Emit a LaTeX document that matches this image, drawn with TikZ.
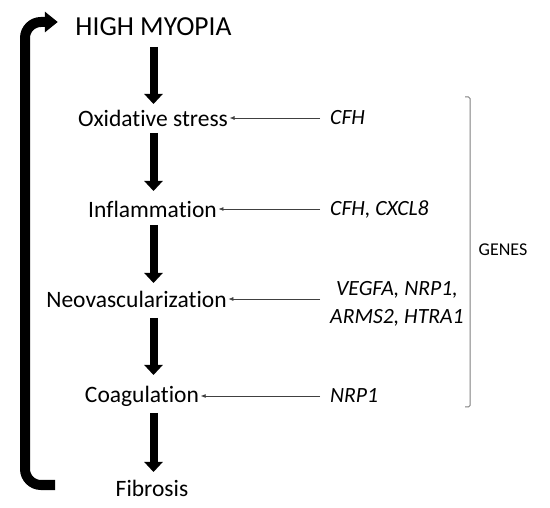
\documentclass[tikz,border=0pt]{standalone}
\usepackage{fontspec}
\setmainfont{Carlito}[Ligatures={NoCommon}]
\usetikzlibrary{arrows.meta,calc}
\begin{document}
\begin{tikzpicture}[x=1pt,y=-1pt,
  proc/.style={inner sep=1.5pt,font=\fontsize{23.5}{26}\selectfont},
  gene/.style={inner sep=0pt,anchor=west,align=center,font=\fontsize{21.7}{28}\selectfont\itshape},
  bigarrow/.style={line width=8pt,-{Triangle[width=18pt,length=10pt]}},
  genearrow/.style={draw=black!75,line width=0.7pt,-{Latex[length=5pt,width=4pt]}},
  bracketline/.style={draw=black!50,line width=1pt}]
\useasboundingbox (0,0) rectangle (550,508);
\node[proc,font=\fontsize{27.5}{30}\selectfont] (hm) at (153.5,27) {HIGH MYOPIA};
\node[proc] (ox) at (153,118) {Oxidative stress};
\node[proc] (infl) at (152.5,209) {Inflammation};
\node[proc] (neo) at (136.5,299) {Neovascularization};
\node[proc] (coag) at (142,396) {Coagulation};
\node[proc] (fib) at (152,488) {Fibrosis};
\node[gene] (g1) at (330,118) {CFH};
\node[gene] (g2) at (330,209) {CFH, CXCL8};
\node[gene] (g3) at (330,304) {VEGFA, NRP1,\\ARMS2, HTRA1};
\node[gene] (g4) at (330,396) {NRP1};
\node[font=\fontsize{18}{20}\selectfont,inner sep=0pt] (genes) at (503,250) {GENES};
% main chain
\draw[bigarrow] ($(hm.center)+(0,20)$) -- ($(hm.center |- ox.center)+(0,-14)$);
\draw[bigarrow] ($(hm.center |- ox.center)+(0,15)$) -- ($(hm.center |- infl.center)+(0,-18)$);
\draw[bigarrow] ($(hm.center |- infl.center)+(0,16)$) -- ($(hm.center |- neo.center)+(0,-16)$);
\draw[bigarrow] ($(hm.center |- neo.center)+(0,19)$) -- ($(hm.center |- coag.center)+(0,-21)$);
\draw[bigarrow] ($(hm.center |- coag.center)+(0,17)$) -- ($(hm.center |- fib.center)+(0,-16)$);
% gene arrows
\draw[genearrow] ($(g1.west)+(-10,0)$) -- (ox.east);
\draw[genearrow] ($(g2.west)+(-10,0)$) -- (infl.east);
\draw[genearrow] ($(g3.west |- neo.center)+(-10,0)$) -- (neo.east);
\draw[genearrow] ($(g4.west)+(-10,0)$) -- (coag.east);
% bracket
\coordinate (bt) at (470,97);
\coordinate (bb) at (470,407);
\draw[bracketline,rounded corners=1.5pt] ($(bt)+(-5,0)$) -- (bt) -- (bb) -- ($(bb)+(-5,0)$);
% feedback arrow
\coordinate (fbstart) at (55,485);
\coordinate (fbend) at ($(hm.west)+(-16,-5)$);
\draw[line width=10pt,rounded corners=16pt,-{Triangle[width=20pt,length=13pt]}] (fbstart) -- (25,485) -- (25,22) -- (fbend);
\end{tikzpicture}
\end{document}
